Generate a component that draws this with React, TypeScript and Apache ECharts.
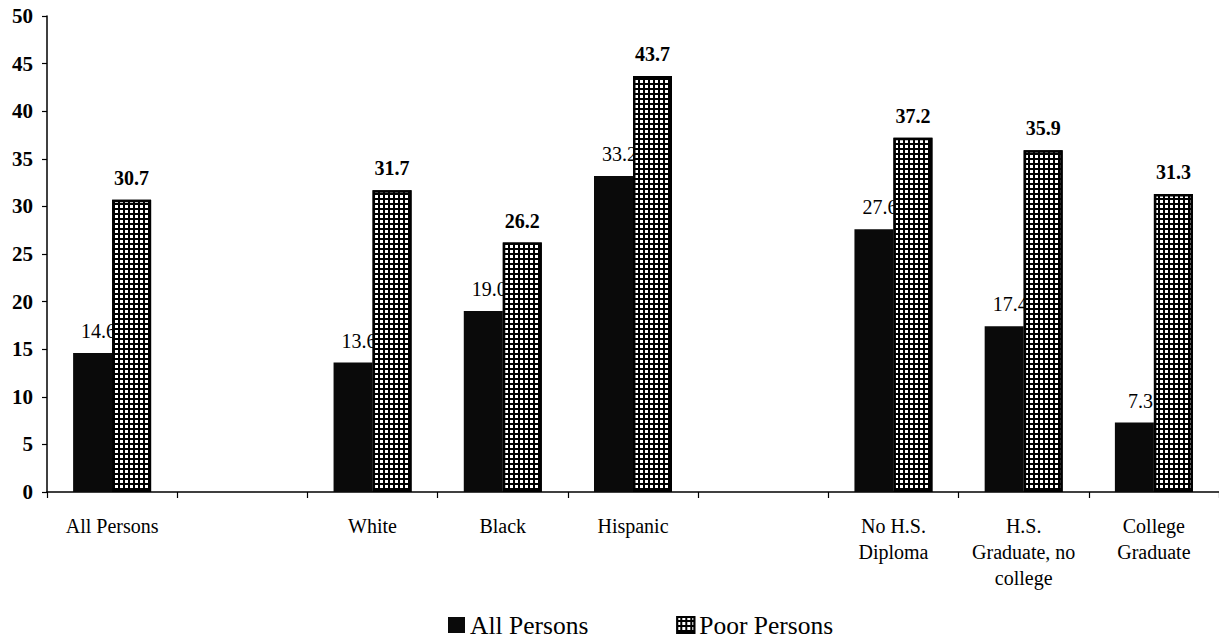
import React, { useEffect, useRef } from "react";
import * as echarts from "echarts";

// Categories along the x axis; empty strings are spacer slots between groups.
const categories: string[] = [
  "All Persons",
  "",
  "White",
  "Black",
  "Hispanic",
  "",
  "No H.S.\nDiploma",
  "H.S.\nGraduate, no\ncollege",
  "College\nGraduate",
];

// Percent values per category (null for spacer slots).
const allPersons: (number | null)[] = [14.6, null, 13.6, 19.0, 33.2, null, 27.6, 17.4, 7.3];
const poorPersons: (number | null)[] = [30.7, null, 31.7, 26.2, 43.7, null, 37.2, 35.9, 31.3];

const seriesNames = ["All Persons", "Poor Persons"];

const yMin = 0;
const yMax = 50;
const yStep = 5;

const FONT = "'Liberation Serif', 'Times New Roman', serif";

export default function App() {
  const ref = useRef<HTMLDivElement>(null);

  useEffect(() => {
    if (!ref.current) return;
    const chart = echarts.init(ref.current, undefined, { renderer: "svg" });

    const fmt = (p: any) => (p.value == null ? "" : Number(p.value).toFixed(1));

    chart.setOption({
      animation: false,
      backgroundColor: "#ffffff",
      textStyle: { fontFamily: FONT, color: "#000" },
      grid: { left: 47, top: 16, width: 1175, bottom: 146, containLabel: false },
      legend: {
        left: 443,
        top: 607,
        itemWidth: 17,
        itemHeight: 16,
        itemGap: 88,
        icon: "rect",
        textStyle: { fontFamily: FONT, fontSize: 25.5, color: "#000" },
        data: seriesNames,
      },
      xAxis: {
        type: "category",
        data: categories,
        axisLine: { show: true, lineStyle: { color: "#000", width: 1.5 } },
        axisTick: { show: true, length: 6, interval: 0, lineStyle: { color: "#000", width: 1.2 } },
        axisLabel: {
          interval: 0,
          margin: 21,
          fontFamily: FONT,
          fontSize: 20,
          lineHeight: 26,
          color: "#000",
          verticalAlign: "top",
        },
        splitLine: { show: false },
      },
      yAxis: {
        type: "value",
        min: yMin,
        max: yMax,
        interval: yStep,
        axisLine: { show: true, lineStyle: { color: "#000", width: 1.5 } },
        axisTick: { show: true, length: 5, lineStyle: { color: "#000", width: 1.2 } },
        axisLabel: {
          margin: 14,
          fontFamily: FONT,
          fontSize: 21,
          fontWeight: "bold",
          color: "#000",
        },
        splitLine: { show: false },
      },
      series: [
        {
          name: seriesNames[0],
          type: "bar",
          data: allPersons,
          barWidth: 39,
          barGap: "0%",
          z: 2,
          itemStyle: { color: "#0a0a0a", borderColor: "#0a0a0a", borderWidth: 0 },
          label: {
            show: true,
            position: "top",
            distance: 12,
            offset: [6, 0],
            fontFamily: FONT,
            fontSize: 20,
            color: "#000",
            formatter: fmt,
          },
        },
        {
          name: seriesNames[1],
          type: "bar",
          data: poorPersons,
          barWidth: 39,
          barGap: "0%",
          z: 3,
          itemStyle: {
            color: "#000",
            borderColor: "#000",
            borderWidth: 2.5,
            decal: {
              symbol: "rect",
              symbolSize: 1,
              color: "#ffffff",
              dashArrayX: [3, 1.6],
              dashArrayY: [3, 1.6],
              rotation: 0,
            },
          },
          label: {
            show: true,
            position: "top",
            distance: 12,
            fontFamily: FONT,
            fontSize: 20,
            fontWeight: "bold",
            color: "#000",
            formatter: fmt,
          },
        },
      ],
    });

    return () => chart.dispose();
  }, []);

  return (
    <div
      ref={ref}
      style={{ position: "absolute", left: 0, top: 0, width: 1219, height: 638, background: "#fff" }}
    />
  );
}
